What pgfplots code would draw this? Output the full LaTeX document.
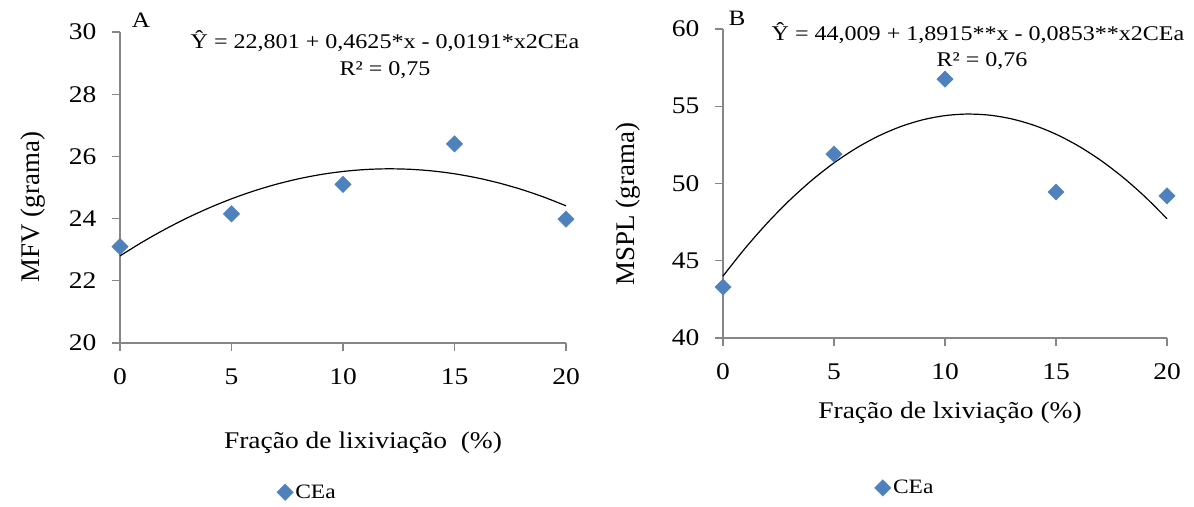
\documentclass[border=0pt]{standalone}
\usepackage{pgfplots}
\pgfplotsset{compat=1.18}
\usepackage{fontspec}
\setmainfont{Liberation Serif}[FakeStretch=1.15]
\newfontfamily\plainserif{Liberation Serif}
\definecolor{mk}{HTML}{4F81BD}
\definecolor{axc}{HTML}{868686}
\pgfplotsset{
  panel/.style={
    scale only axis,
    axis x line*=bottom, axis y line*=left,
    axis line style={axc, line width=1.3bp, -},
    every tick/.style={axc, line width=1.3bp},
    tick align=outside,
    major tick length=8bp,
    xmin=0, xmax=20, xtick={0,5,10,15,20},
    ticklabel style={font=\fontsize{24}{28}\selectfont},
    /pgf/number format/assume math mode=true,
    xticklabel style={yshift=-14bp},
    yticklabel style={xshift=-12bp},
    clip=false,
    legend style={draw=none, fill=none, font=\fontsize{20.5}{24}\selectfont, anchor=center,
      inner sep=0pt, /tikz/every even column/.append style={column sep=2bp}},
    legend image code/.code={\draw[mark repeat=2,mark phase=2] plot coordinates {(0cm,0cm) (0.2cm,0cm) (0.4cm,0cm)};},
  },
  dots/.style={only marks, mark=square*, mark size=5.8bp, mark options={rotate=45, fill=mk, draw=mk}},
  fit/.style={black, line width=1.2bp, smooth, mark=none, forget plot},
}
\begin{document}
\begin{tikzpicture}
\useasboundingbox (0,0) rectangle (1194bp,507bp);
% Panel A
\begin{axis}[panel, at={(120bp,164bp)}, anchor=south west, width=446bp, height=311bp,
  ymin=20, ymax=30, ytick={20,22,24,26,28,30},
  legend style={at={(0.42,-0.48)}}]
\addplot[fit] coordinates {
(0,22.801) (1,23.2444) (2,23.6496) (3,24.0166) (4,24.3454) (5,24.636) (6,24.8884)
(7,25.1026) (8,25.2786) (9,25.4164) (10,25.516) (11,25.5774) (12,25.6006) (13,25.5856)
(14,25.5324) (15,25.441) (16,25.3114) (17,25.1436) (18,24.9376) (19,24.6934) (20,24.411)};
\addplot[dots] coordinates {(0,23.1) (5,24.15) (10,25.1) (15,26.4) (20,23.98)};
\addlegendentry{CEa}
\end{axis}
% Panel B
\begin{axis}[panel, at={(723bp,169bp)}, anchor=south west, width=444bp, height=309bp,
  ymin=40, ymax=60, ytick={40,45,50,55,60},
  legend style={at={(0.41,-0.485)}}]
\addplot[fit] coordinates {
(0,44.009) (1,45.8152) (2,47.4508) (3,48.9158) (4,50.2102) (5,51.334) (6,52.2872)
(7,53.0698) (8,53.6818) (9,54.1232) (10,54.394) (11,54.4942) (12,54.4238) (13,54.1828)
(14,53.7712) (15,53.189) (16,52.4362) (17,51.5128) (18,50.4188) (19,49.1542) (20,47.719)};
\addplot[dots] coordinates {(0,43.3) (5,51.9) (10,56.75) (15,49.45) (20,49.2)};
\addlegendentry{CEa}
\end{axis}
% texts (picture coordinates, y measured from bottom)
\node[font=\fontsize{22}{26}\selectfont] at (141bp,487bp) {A};
\node[font=\fontsize{22}{26}\selectfont] at (737bp,489bp) {B};
\node[font=\fontsize{21}{25}\selectfont] at (385bp,466bp) {Ŷ = 22,801 + 0,4625*x - 0,0191*x2CEa};
\node[font=\fontsize{21}{25}\selectfont] at (385bp,437bp) {R² = 0,75};
\node[font=\fontsize{21}{25}\selectfont] at (978bp,474bp) {Ŷ = 44,009 + 1,8915**x - 0,0853**x2CEa};
\node[font=\fontsize{21}{25}\selectfont] at (982bp,446bp) {R² = 0,76};
\node[font=\plainserif\fontsize{27}{30}\selectfont, rotate=90] at (33bp,300bp) {MFV (grama)};
\node[font=\plainserif\fontsize{27}{30}\selectfont, rotate=90] at (628bp,303bp) {MSPL (grama)};
\node[font=\fontsize{24}{28}\selectfont] at (363bp,64bp) {Fração de lixiviação\ \ (\%)};
\node[font=\fontsize{24}{28}\selectfont] at (950bp,94bp) {Fração de lxiviação (\%)};
\end{tikzpicture}
\end{document}
